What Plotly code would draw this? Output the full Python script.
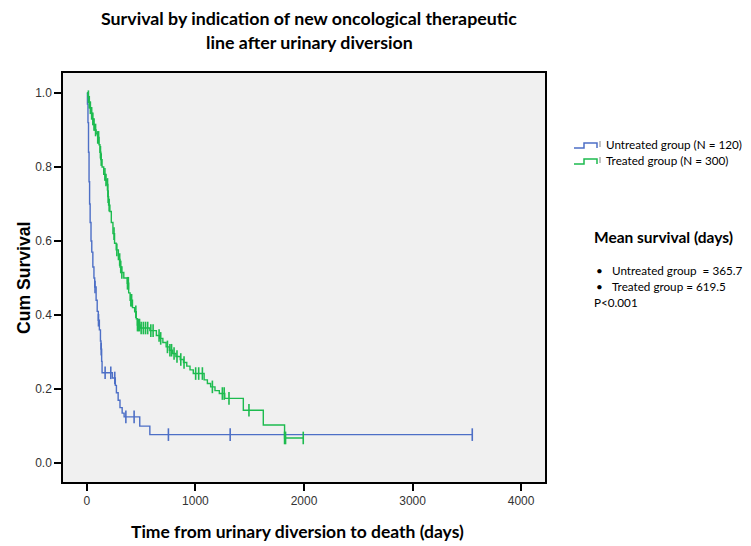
import numpy as np
import plotly.graph_objects as go

# ---- data ----
untreated_times = [0, 5, 10, 15, 20, 25, 30, 38, 45, 55, 65, 72, 85, 95, 105, 115, 125, 130, 136, 140,
                   235, 262, 272, 288, 305, 325, 343, 487, 580]
untreated_surv = [1.0, 0.97, 0.92, 0.84, 0.76, 0.70, 0.65, 0.60, 0.57, 0.53, 0.50, 0.476, 0.44, 0.41,
                  0.386, 0.36, 0.33, 0.308, 0.275, 0.244, 0.23, 0.21, 0.19, 0.17, 0.15, 0.135, 0.125,
                  0.10, 0.077]
untreated_end = 3550
untreated_censor = [75, 107, 132, 168, 220, 257, 359, 435, 751, 1320, 3550]

treated_times = [0, 10, 20, 30, 40, 50, 60, 70, 85, 100, 112, 120, 128, 140, 155, 170, 185, 193, 200,
                 212, 225, 240, 255, 270, 290, 305, 318, 340, 372, 385, 398, 420, 440, 455, 465,
                 490, 580, 640, 670, 700, 730, 760, 790, 820, 860, 890, 920, 950, 980, 1080, 1110,
                 1140, 1180, 1220, 1270, 1441, 1625, 1821]
treated_surv = [1.0, 0.99, 0.975, 0.96, 0.945, 0.93, 0.915, 0.90, 0.89, 0.88, 0.86, 0.84, 0.82, 0.80,
                0.78, 0.765, 0.753, 0.72, 0.697, 0.68, 0.65, 0.62, 0.594, 0.576, 0.55, 0.53, 0.515,
                0.50, 0.486, 0.46, 0.44, 0.42, 0.409, 0.39, 0.373, 0.365, 0.358, 0.345, 0.337, 0.326,
                0.314, 0.305, 0.296, 0.288, 0.28, 0.272, 0.262, 0.252, 0.242, 0.225, 0.215, 0.206,
                0.196, 0.188, 0.175, 0.143, 0.103, 0.068]
treated_end = 1993
treated_censor = [14, 22, 32, 44, 55, 66, 80, 100, 108, 125, 132, 166, 176, 190, 196, 205, 250, 276,
                  302, 312, 322, 374, 382, 405, 412, 451, 466, 475, 485, 500, 520, 540, 560, 589,
                  610, 665, 680, 742, 765, 780, 803, 830, 865, 895, 1002, 1030, 1064, 1156, 1248,
                  1265, 1309, 1493, 1821, 1830, 1993]

group_names = ["Untreated group (N = 120)", "Treated group (N = 300)"]
group_colors = ["#4d6fc6", "#1dbb4f"]

x_ticks = [0, 1000, 2000, 3000, 4000]
y_ticks = [0.0, 0.2, 0.4, 0.6, 0.8, 1.0]

title_lines = ["Survival by indication of new oncological therapeutic", "line after urinary diversion"]
x_title = "Time from urinary diversion to death (days)"
y_title = "Cum Survival"
stats_title = "Mean survival (days)"
stats_lines = ["Untreated group  = 365.7", "Treated group = 619.5"]
p_text = "P<0.001"

# ---- layout geometry (page pixels; the page body has an 8px margin) ----
OFF = 8
W, H = 751 - OFF, 546 - OFF
L, R, T, B = 63 - OFF, 545 - OFF, 73 - OFF, 482 - OFF


def xp(px):
    return (px - OFF - L) / (R - L)


def yp(py):
    return (B - (py - OFF)) / (B - T)


fig = go.Figure()
groups = [
    (untreated_times, untreated_surv, untreated_end, untreated_censor),
    (treated_times, treated_surv, treated_end, treated_censor),
]
for (t, s, end, cens), name, col in zip(groups, group_names, group_colors):
    xs = list(t) + [end]
    ys = list(s) + [s[-1]]
    fig.add_trace(go.Scatter(x=xs, y=ys, mode="lines", line=dict(shape="hv", color=col, width=1.4),
                             name=name, showlegend=False))
    idx = np.searchsorted(np.array(t), np.array(cens), side="right") - 1
    cy = [s[i] for i in idx]
    fig.add_trace(go.Scatter(x=cens, y=cy, mode="markers", showlegend=False,
                             marker=dict(symbol="line-ns", size=9, line=dict(color=col, width=1.6))))

axis_common = dict(showline=True, linecolor="black", linewidth=1.5, mirror=True, showgrid=False,
                   zeroline=False, ticks="outside", ticklen=7, tickcolor="black", tickwidth=1.5,
                   automargin=False,
                   tickfont=dict(family="Liberation Sans, Arial", size=12, color="#333333"))

fig.update_layout(
    width=W, height=H,
    margin=dict(l=L, r=W - R, t=T, b=H - B, autoexpand=False),
    paper_bgcolor="white", plot_bgcolor="#f0f0f0",
    xaxis=dict(range=[-220, 4220], tickvals=x_ticks, ticktext=[str(v) for v in x_ticks], **axis_common),
    yaxis=dict(range=[-0.051, 1.054], tickvals=y_ticks, ticktext=[f"{v:.1f}" for v in y_ticks],
               **axis_common),
    showlegend=False,
)

bold_font = "Lato, Open Sans"


def ann(text, px, py, size, family=bold_font, xanchor="left", textangle=0):
    fig.add_annotation(xref="paper", yref="paper", x=xp(px), y=yp(py), xanchor=xanchor,
                       yanchor="middle", showarrow=False, text=text, textangle=textangle,
                       font=dict(family=family, size=size, color="black"))


# title
ann("<b>" + title_lines[0] + "</b>", 309, 18, 17.8, xanchor="center")
ann("<b>" + title_lines[1] + "</b>", 309, 42, 17.8, xanchor="center")
# axis titles
ann("<b>" + x_title + "</b>", 297, 531, 17.5, xanchor="center")
ann("<b>" + y_title + "</b>", 24, 278, 17.6, family="Liberation Sans, Arial", xanchor="center",
    textangle=-90)

# legend (step glyphs + labels)
for i, (name, col) in enumerate(zip(group_names, group_colors)):
    cy = 144 + 16 * i
    path = (f"M {xp(574)} {yp(cy + 4)} L {xp(584)} {yp(cy + 4)} L {xp(584)} {yp(cy - 1)} "
            f"L {xp(597)} {yp(cy - 1)} L {xp(597)} {yp(cy + 4)}")
    fig.add_shape(type="path", xref="paper", yref="paper", path=path,
                  line=dict(color=col, width=1.5))
    fig.add_shape(type="line", xref="paper", yref="paper", x0=xp(600), x1=xp(600),
                  y0=yp(cy - 3), y1=yp(cy + 3), line=dict(color="#888888", width=1))
    ann(name, 604, cy, 11.7)

# mean survival block
ann("<b>" + stats_title + "</b>", 592, 237, 15.5)
for i, line in enumerate(stats_lines):
    ann("•", 594, 270 + 16 * i, 11.7)
    ann(line, 610, 270 + 16 * i, 11.7)
ann(p_text, 592, 302, 11.7)

fig.write_html("out.html")
